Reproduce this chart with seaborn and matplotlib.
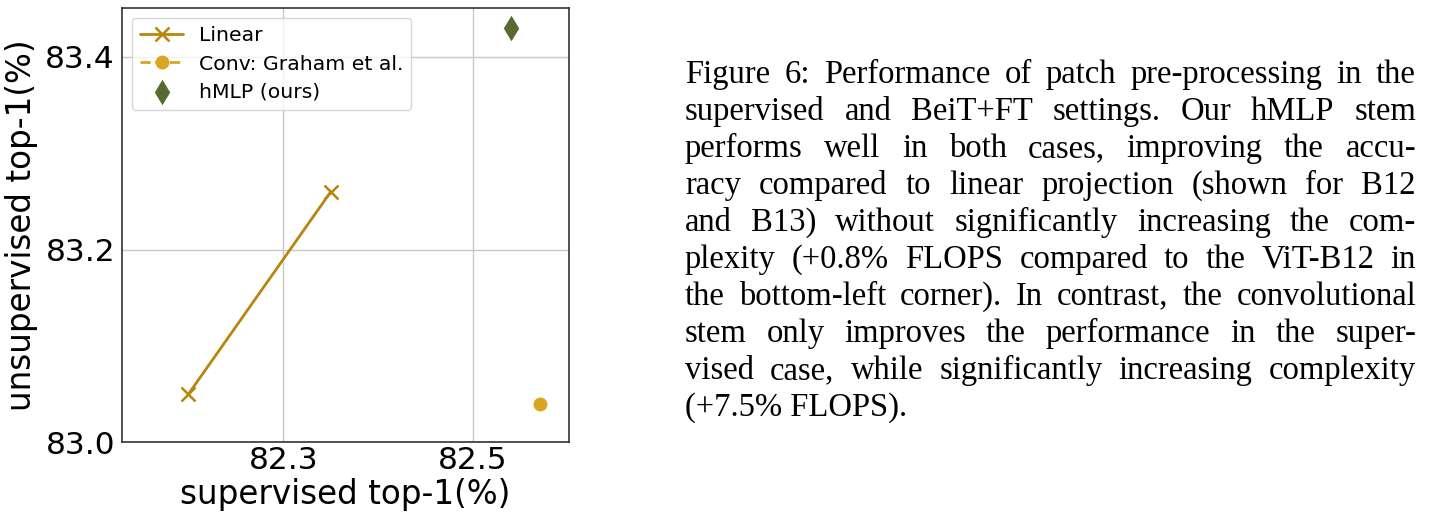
import matplotlib
matplotlib.use("Agg")
import matplotlib.pyplot as plt
import seaborn as sns
import pandas as pd

# ---- data ----
linear_sup = [82.20, 82.35]
linear_unsup = [83.05, 83.26]
conv_sup = [82.57]
conv_unsup = [83.04]
hmlp_sup = [82.54]
hmlp_unsup = [83.43]
series_names = ["Linear", "Conv: Graham et al.", "hMLP (ours)"]
x_ticks = [82.3, 82.5]
y_ticks = [83.0, 83.2, 83.4]
x_label = "supervised top-1(%)"
y_label = "unsupervised top-1(%)"
caption_lines = [
    "Figure 6: Performance of patch pre-processing in the",
    "supervised and BeiT+FT settings.  Our hMLP stem",
    "performs well in both cases, improving the accu-",
    "racy compared to linear projection (shown for B12",
    "and B13) without significantly increasing the com-",
    "plexity (+0.8% FLOPS compared to the ViT-B12 in",
    "the bottom-left corner). In contrast, the convolutional",
    "stem only improves the performance in the super-",
    "vised case, while significantly increasing complexity",
    "(+7.5% FLOPS).",
]

sns.set_style("white")
plt.rcParams["font.family"] = ["DejaVu Sans"]
plt.rcParams["text.color"] = "black"

W, H = 1432, 520
fig = plt.figure(figsize=(W / 100, H / 100), dpi=100)
ax = fig.add_axes([122 / W, 1 - 442.3 / H, (569 - 122) / W, (442.3 - 8) / H])

df_lin = pd.DataFrame({"x": linear_sup, "y": linear_unsup})
df_conv = pd.DataFrame({"x": conv_sup, "y": conv_unsup})
df_h = pd.DataFrame({"x": hmlp_sup, "y": hmlp_unsup})

lin_col = "#B8860B"
conv_col = "#DAA520"
h_col = "#556B2F"

sns.lineplot(data=df_lin, x="x", y="y", ax=ax, color=lin_col, marker="x",
             markersize=10, markeredgewidth=1.8, markeredgecolor=lin_col,
             linewidth=2, label=series_names[0], sort=False)
sns.lineplot(data=df_conv, x="x", y="y", ax=ax, color=conv_col, marker="o",
             markersize=10, markeredgewidth=0, markeredgecolor=conv_col,
             linewidth=2, linestyle="--", label=series_names[1], sort=False)
sns.scatterplot(data=df_h, x="x", y="y", ax=ax, color=h_col, marker="d",
                s=170, linewidth=0, label=series_names[2])

ax.set_xlim(82.130, 82.601)
ax.set_ylim(83.0, 83.4506)
ax.set_xticks(x_ticks)
ax.set_yticks(y_ticks)
ax.set_xticklabels([f"{v:.1f}" for v in x_ticks])
ax.set_yticklabels([f"{v:.1f}" for v in y_ticks])
ax.grid(True, color="#c8c8c8", linewidth=1)
ax.tick_params(axis="both", labelsize=22.5, colors="black", length=0, pad=5)
ax.tick_params(axis="x", pad=3)
ax.set_xlabel(x_label, fontsize=23.5, color="black", labelpad=2)
ax.set_ylabel(y_label, fontsize=23.5, color="black", labelpad=5)
for sp in ax.spines.values():
    sp.set_color("#333333")
    sp.set_linewidth(1.2)

leg = ax.legend(loc="upper left", fontsize=14.7, frameon=True, framealpha=0.8,
                edgecolor="#cccccc", fancybox=True, handlelength=2.1,
                handletextpad=0.75, labelspacing=0.45, borderaxespad=0.5,
                labelcolor="black")

# ---- caption (justified) ----
renderer = fig.canvas.get_renderer()
left_px, right_px = 685, 1416
base0, step = 83, 37
fsize = 23.5
fam = "Liberation Serif"

def width_of(s, size):
    t = fig.text(0, 0, s, fontsize=size, family=fam)
    w = t.get_window_extent(renderer=renderer).width
    t.remove()
    return w

maxw = max(width_of(l, fsize) for l in caption_lines[:-1])
if maxw > (right_px - left_px):
    fsize = fsize * (right_px - left_px) / maxw * 0.99

for i, line in enumerate(caption_lines):
    yb = 1 - (base0 + i * step) / H
    if i == len(caption_lines) - 1:
        fig.text(left_px / W, yb, line, fontsize=fsize, family=fam,
                 va="baseline", ha="left", color="black")
        continue
    words = line.split()
    widths = [width_of(w, fsize) for w in words]
    gap = ((right_px - left_px) - sum(widths)) / (len(words) - 1)
    x = left_px
    for w, wd in zip(words, widths):
        fig.text(x / W, yb, w, fontsize=fsize, family=fam,
                 va="baseline", ha="left", color="black")
        x += wd + gap

fig.savefig("out.png", dpi=100)
